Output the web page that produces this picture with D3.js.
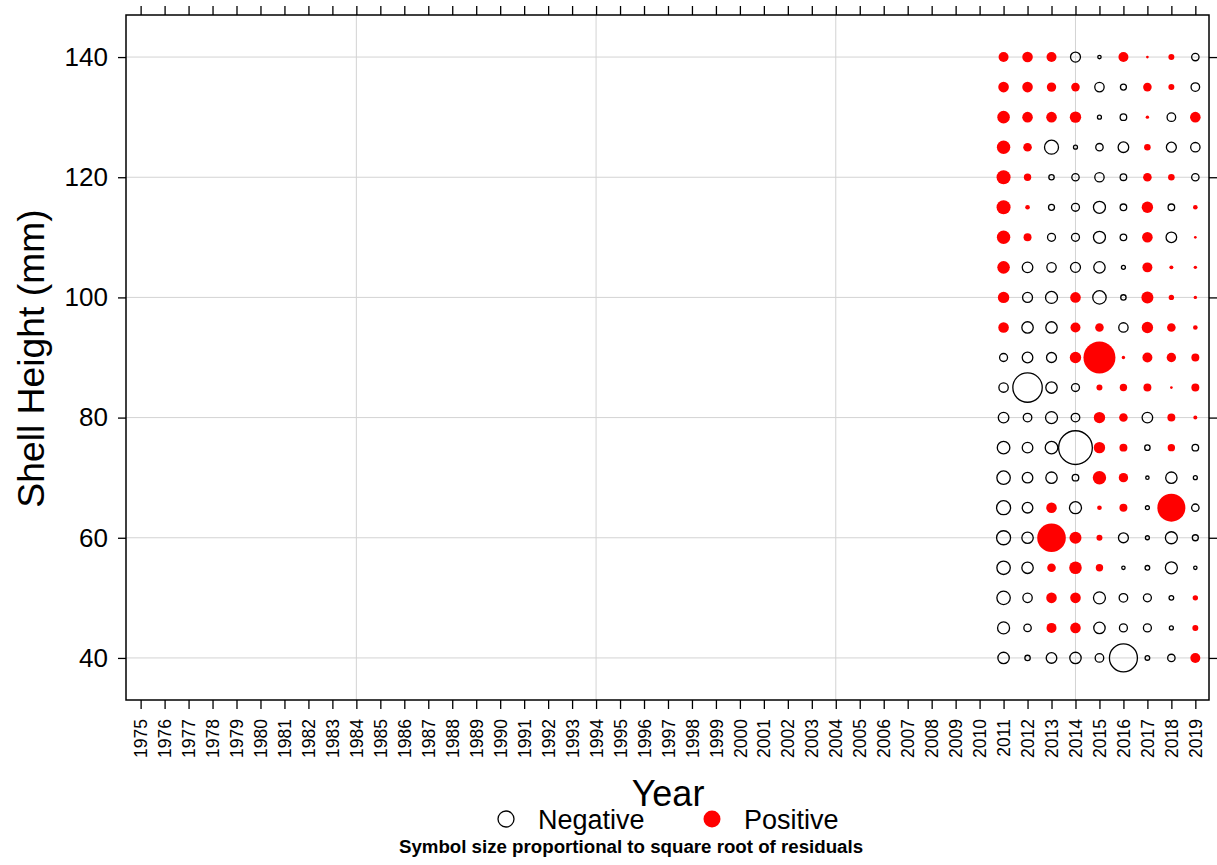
<!DOCTYPE html>
<html>
<head>
<meta charset="utf-8">
<script src="https://cdn.jsdelivr.net/npm/d3@7"></script>
<style>
  html, body { margin: 0; padding: 0; background: #fff; }
  svg { display: block; font-family: "Liberation Sans", Arial, sans-serif; }
</style>
</head>
<body>
<svg id="chart" width="1217" height="865"></svg>
<script>
// ---- Data ----
const years = d3.range(1975, 2020);            // axis years (tick labels)
const heights = d3.range(40, 145, 5);          // shell height classes (mm), 40..140
const yTicks = [40, 60, 80, 100, 120, 140];
const gridYears = [1984, 1994, 2004, 2014];
const residualYears = [2011, 2012, 2013, 2014, 2015, 2016, 2017, 2018, 2019];

// residuals per year, ordered by height 40,45,...,140
const res2011 = [-0.9,-1.0,-1.25,-1.25,-1.36,-1.36,-1.25,-1.1,-0.78,-0.61,-0.44,0.78,0.9,1.1,1.25,1.36,1.36,1.25,1.1,0.78,0.69];
const res2012 = [-0.2,-0.38,-0.61,-0.9,-0.9,-0.78,-0.78,-0.78,-0.51,-6.0,-0.78,-0.9,-0.69,-0.78,0.44,0.15,0.38,0.51,0.78,0.78,0.78];
const res2013 = [-0.78,0.69,0.78,0.51,5.68,0.78,-0.9,-1.1,-1.0,-0.9,-0.69,-0.9,-1.0,-0.61,-0.44,-0.25,-0.2,-1.36,0.78,0.61,0.69];
const res2014 = [-0.9,0.78,0.78,1.1,1.0,-1.0,-0.3,-7.9,-0.51,-0.44,0.9,0.69,0.78,-0.69,-0.44,-0.44,-0.38,-0.11,0.9,0.51,-0.69];
const res2015 = [-0.51,-0.9,-1.0,0.38,0.25,0.15,1.25,0.9,0.9,0.25,7.1,0.51,-1.25,-0.9,-1.0,-1.0,-0.61,-0.38,-0.11,-0.61,-0.08];
const res2016 = [-5.44,-0.44,-0.51,-0.08,-0.69,0.44,0.61,0.44,0.51,0.38,0.08,-0.61,-0.2,-0.11,-0.3,-0.3,-0.3,-0.78,-0.3,-0.25,0.69];
const res2017 = [-0.15,-0.44,-0.44,-0.15,-0.11,-0.11,-0.08,-0.2,-0.78,0.44,0.69,0.9,1.0,0.69,0.78,0.9,0.51,0.3,0.08,0.51,0.05];
const res2018 = [-0.38,-0.11,-0.15,-1.0,-1.0,5.44,-0.9,0.38,0.44,0.05,0.61,0.51,0.2,0.11,-0.78,-0.3,0.3,-0.69,-0.51,0.25,0.25];
const res2019 = [0.69,0.25,0.2,-0.08,-0.25,-0.38,-0.11,-0.3,0.11,0.44,0.44,0.15,0.08,0.08,0.05,0.15,-0.38,-0.61,0.78,-0.51,-0.38];
const residualsByYear = [res2011,res2012,res2013,res2014,res2015,res2016,res2017,res2018,res2019];

const legendLabels = ["Negative", "Positive"];

// ---- Layout ----
const svg = d3.select("#chart");
const plot = { left: 126, right: 1209, top: 15, bottom: 700 };

const x = d3.scaleLinear().domain([1974.39, 2019.57]).range([plot.left, plot.right]);
const y = d3.scaleLinear().domain([33, 147]).range([plot.bottom, plot.top]);
const r = d3.scaleSqrt().domain([0, 1]).range([0, 6]);

// gridlines
const grid = svg.append("g").attr("stroke", "#d3d3d3").attr("stroke-width", 1);
grid.selectAll("line.v").data(gridYears).join("line")
  .attr("x1", d => x(d)).attr("x2", d => x(d))
  .attr("y1", plot.top).attr("y2", plot.bottom);
grid.selectAll("line.h").data(yTicks).join("line")
  .attr("x1", plot.left).attr("x2", plot.right)
  .attr("y1", d => y(d)).attr("y2", d => y(d));

// points
const points = [];
residualYears.forEach((yr, i) => {
  residualsByYear[i].forEach((v, j) => points.push({ year: yr, h: heights[j], v }));
});
svg.append("g").selectAll("circle").data(points).join("circle")
  .attr("cx", d => x(d.year))
  .attr("cy", d => y(d.h))
  .attr("r", d => r(Math.abs(d.v)))
  .attr("fill", d => d.v >= 0 ? "#ff0000" : "none")
  .attr("stroke", d => d.v >= 0 ? "none" : "#000")
  .attr("stroke-width", 1.3);

// axes
const axisStyle = g => {
  g.select(".domain").remove();
  g.selectAll(".tick line").attr("stroke", "#000").attr("stroke-width", 1.3);
};
// bottom
const xb = svg.append("g").attr("transform", `translate(0,${plot.bottom})`)
  .call(d3.axisBottom(x).tickValues(years).tickFormat(d3.format("d")).tickSize(9).tickPadding(0))
  .call(axisStyle);
xb.selectAll(".tick text")
  .attr("font-size", "17.5px").attr("font-family", "Liberation Sans, Arial, sans-serif")
  .attr("fill", "#000")
  .attr("transform", "rotate(-90)")
  .attr("text-anchor", "end")
  .attr("x", -19).attr("y", 0).attr("dy", "0.35em");
// top
svg.append("g").attr("transform", `translate(0,${plot.top})`)
  .call(d3.axisTop(x).tickValues(years).tickFormat("").tickSize(9))
  .call(axisStyle);
// left
const yl = svg.append("g").attr("transform", `translate(${plot.left},0)`)
  .call(d3.axisLeft(y).tickValues(yTicks).tickSize(8).tickPadding(10))
  .call(axisStyle);
yl.selectAll(".tick text")
  .attr("font-size", "26px").attr("font-family", "Liberation Sans, Arial, sans-serif")
  .attr("fill", "#000");
// right
svg.append("g").attr("transform", `translate(${plot.right},0)`)
  .call(d3.axisRight(y).tickValues(yTicks).tickFormat("").tickSize(8))
  .call(axisStyle);

// frame
svg.append("rect")
  .attr("x", plot.left).attr("y", plot.top)
  .attr("width", plot.right - plot.left).attr("height", plot.bottom - plot.top)
  .attr("fill", "none").attr("stroke", "#000").attr("stroke-width", 1.5);

// axis titles
svg.append("text")
  .attr("transform", `translate(44,${(plot.top + plot.bottom) / 2 + 1}) rotate(-90)`)
  .attr("text-anchor", "middle")
  .attr("font-size", "37.3px")
  .text("Shell Height (mm)");
svg.append("text")
  .attr("x", 668).attr("y", 806)
  .attr("text-anchor", "middle")
  .attr("font-size", "36px")
  .text("Year");

// legend
const legend = svg.append("g");
legend.append("circle").attr("cx", 506).attr("cy", 819).attr("r", 8)
  .attr("fill", "none").attr("stroke", "#000").attr("stroke-width", 1.3);
legend.append("text").attr("x", 538).attr("y", 829).attr("font-size", "27px").text(legendLabels[0]);
legend.append("circle").attr("cx", 712).attr("cy", 819).attr("r", 8.5)
  .attr("fill", "#ff0000");
legend.append("text").attr("x", 744).attr("y", 829).attr("font-size", "27px").text(legendLabels[1]);

svg.append("text")
  .attr("x", 631).attr("y", 853)
  .attr("text-anchor", "middle")
  .attr("font-size", "18.7px").attr("font-weight", "bold")
  .text("Symbol size proportional to square root of residuals");
</script>
</body>
</html>
